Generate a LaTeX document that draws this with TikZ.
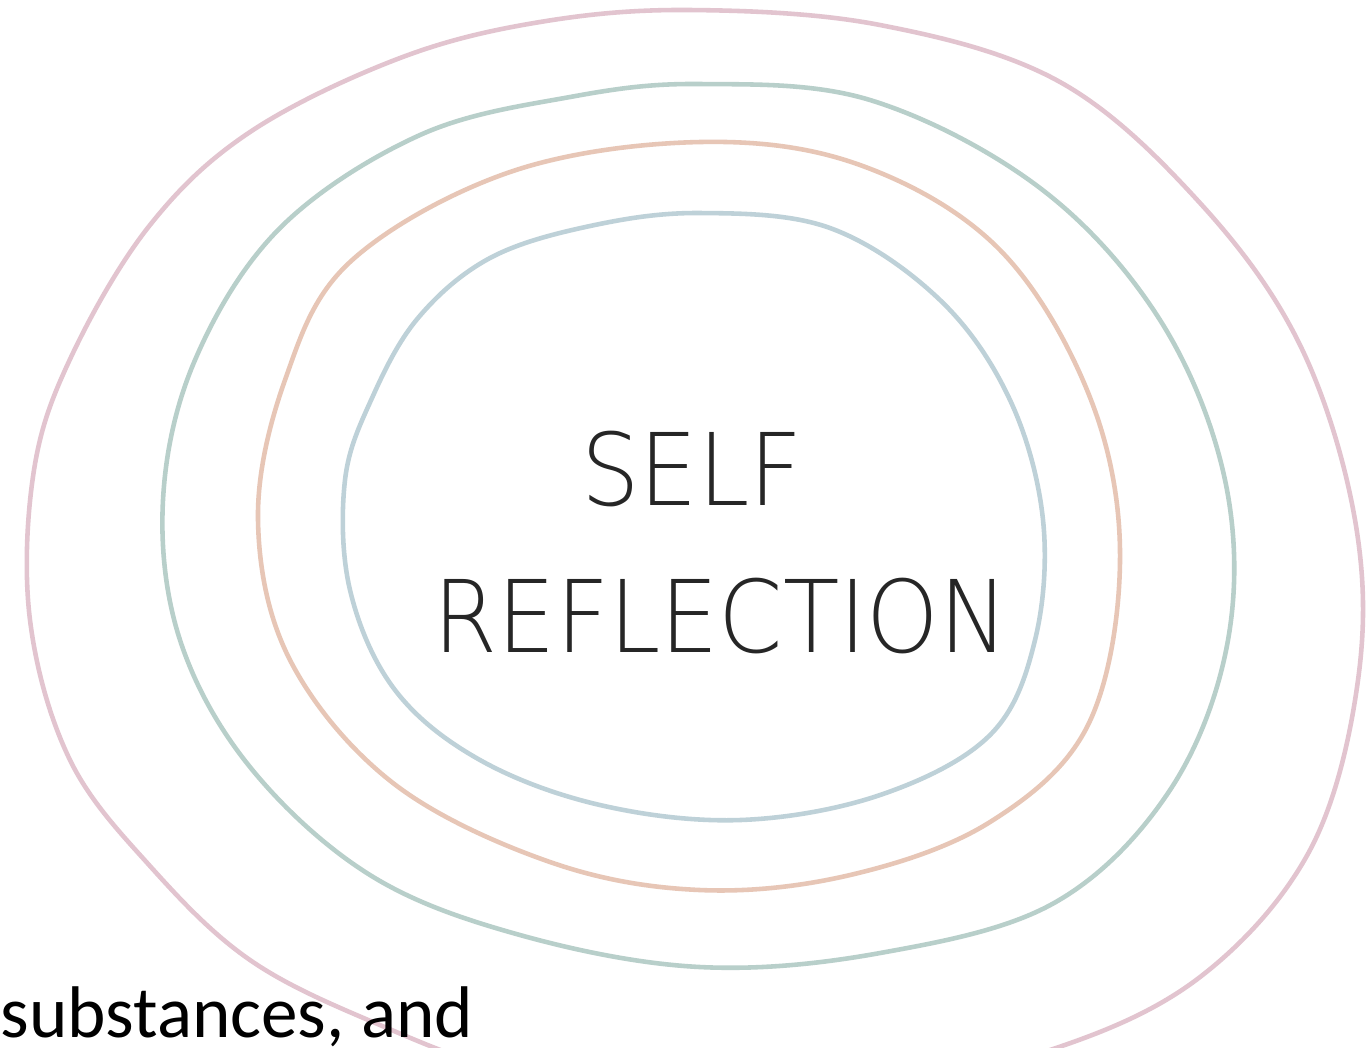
\documentclass[tikz,border=0pt]{standalone}
\usepackage{fontspec}
\newfontfamily\handfont{DejaVu Sans ExtraLight}
\newfontfamily\notefont{Carlito}
\definecolor{ringpink}{RGB}{226,196,207}
\definecolor{ringteal}{RGB}{184,207,202}
\definecolor{ringorange}{RGB}{231,198,182}
\definecolor{ringblue}{RGB}{190,209,216}

\begin{document}
\begin{tikzpicture}[x=0.01cm, y=-0.01cm,
    ring/.style={line width=1.3pt, line join=round},
    title/.style={inner sep=0pt, anchor=base, xscale=0.92,
                  font=\handfont\fontsize{28.5}{30}\selectfont, text=black!85},
    note/.style={inner sep=0pt, anchor=base west,
                 font=\notefont\fontsize{20.8}{24}\selectfont}]
  \fill[white] (0,0) rectangle (1368,1047);
  \clip (0,0) rectangle (1368,1047);
  % rings, outside in
  \draw[ring, ringpink] plot[smooth cycle, tension=0.6] coordinates {
    (690,10) (880,25) (1060,82) (1200,203) (1300,345) (1355,520)
    (1358,680) (1310,850) (1200,977) (1050,1050) (860,1090) (700,1100)
    (520,1075) (380,1025) (250,960) (150,866) (70,760) (30,620)
    (34,470) (72,355) (150,225) (250,132) (400,58) (540,22)};
  \draw[ring, ringteal] plot[smooth cycle, tension=0.6] coordinates {
    (700,84) (870,100) (1040,188) (1160,320) (1225,480) (1228,640)
    (1170,790) (1054,903) (880,953) (700,967) (520,935) (370,875)
    (250,767) (180,640) (163,500) (195,360) (280,228) (420,135) (570,97)};
  \draw[ring, ringorange] plot[smooth cycle, tension=0.6] coordinates {
    (700,142) (860,165) (1000,250) (1091,400) (1120,560) (1088,725)
    (990,822) (850,875) (700,890) (550,862) (393,783) (290,660)
    (258,520) (285,380) (350,262) (510,172)};
  \draw[ring, ringblue] plot[smooth cycle, tension=0.6] coordinates {
    (700,213) (830,228) (940,300) (1010,400) (1043,520) (1035,640)
    (990,735) (880,795) (740,820) (600,805) (480,760) (395,690)
    (350,590) (345,480) (372,398) (418,318) (490,258) (590,226)};
  % labels
  \node[title] (self) at (692,505) {SELF};
  \node[title] (reflection) at (721,652) {REFLECTION};
  \node[note] (substances) at (0,1037) {substances, and};
\end{tikzpicture}
\end{document}
